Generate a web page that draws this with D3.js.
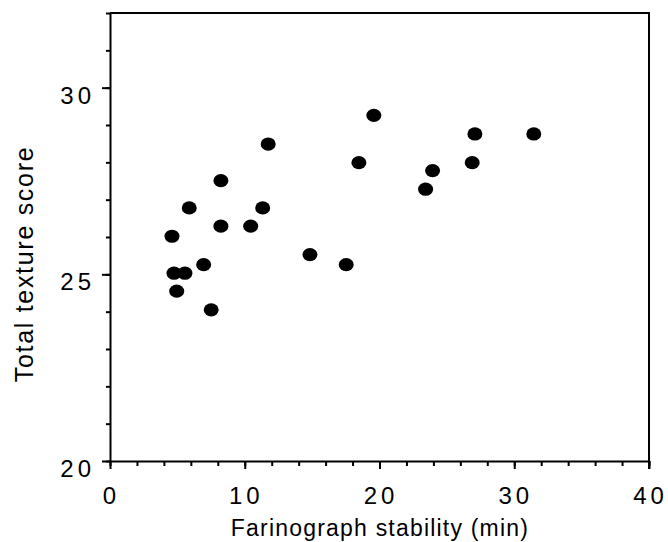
<!DOCTYPE html>
<html>
<head>
<meta charset="utf-8">
<script src="https://cdn.jsdelivr.net/npm/d3@7"></script>
<style>
  body { margin: 0; background: #fff; }
  svg { display: block; font-family: "Liberation Sans", Arial, Helvetica, sans-serif; }
</style>
</head>
<body>
<svg id="chart" width="668" height="542"></svg>
<script>
// farinograph stability (min) vs total texture score
let stability = [4.6, 4.75, 5.56, 4.95, 5.88, 6.95, 7.51, 8.23, 8.23, 10.44, 11.33, 11.74,
	14.84, 17.53, 18.47, 19.58, 23.42, 23.94, 26.88, 27.08, 31.45];
let texture = [26.02, 25.03, 25.03, 24.55, 26.78, 25.26, 24.05, 27.51, 26.29, 26.29, 26.78, 28.49,
	25.53, 25.26, 27.99, 29.26, 27.28, 27.78, 27.99, 28.76, 28.76];

let xMajor = [0, 10, 20, 30, 40];
let xMinor = d3.range(0, 41, 2);
let yMajor = [20, 25, 30];
let yMinor = d3.range(20, 33, 1);

let svg = d3.select('#chart');

let x = d3.scaleLinear().domain([0, 40]).range([110, 649]);
let y = d3.scaleLinear().domain([20, 32]).range([461, 13]);

// minor ticks
svg.append('g')
	.attr('transform', 'translate(110,0)')
	.call(d3.axisLeft(y).tickValues(yMinor).tickSize(4).tickFormat(''))
	.call(g => g.select('.domain').remove());

svg.append('g')
	.attr('transform', 'translate(0,461)')
	.call(d3.axisBottom(x).tickValues(xMinor).tickSize(5).tickFormat(''))
	.call(g => g.select('.domain').remove());

// major ticks + labels
let yAxis = svg.append('g')
	.attr('transform', 'translate(110,0)')
	.call(d3.axisLeft(y).tickValues(yMajor).tickSize(8).tickPadding(14).tickSizeOuter(0));

let xAxis = svg.append('g')
	.attr('transform', 'translate(0,461)')
	.call(d3.axisBottom(x).tickValues(xMajor).tickSize(8).tickPadding(18).tickSizeOuter(0));

svg.selectAll('.tick line').attr('stroke', '#000').attr('stroke-width', 2);
svg.selectAll('.domain').attr('stroke', '#000').attr('stroke-width', 2);

yAxis.selectAll('text')
	.attr('font-size', 24)
	.attr('letter-spacing', 4)
	.attr('fill', '#000')
	.attr('dy', '0.65em')
	.attr('dx', 7);

xAxis.selectAll('text')
	.attr('font-size', 24)
	.attr('letter-spacing', 4)
	.attr('fill', '#000')
	.attr('dx', 1);

// box top and right
svg.append('path')
	.attr('d', `M${x(0)},${y(32)}H${x(40)}V${y(20) + 8}`)
	.attr('fill', 'none')
	.attr('stroke', '#000')
	.attr('stroke-width', 2);

// points
svg.append('g')
	.selectAll('ellipse')
	.data(stability)
	.join('ellipse')
	.attr('cx', d => x(d))
	.attr('cy', (d, i) => y(texture[i]))
	.attr('rx', 7.5)
	.attr('ry', 6.6)
	.attr('fill', '#000');

// axis titles
svg.append('text')
	.attr('x', 380)
	.attr('y', 536)
	.attr('text-anchor', 'middle')
	.attr('font-size', 23)
	.attr('letter-spacing', 1.2)
	.text('Farinograph stability (min)');

svg.append('text')
	.attr('transform', 'translate(33,264) rotate(-90)')
	.attr('text-anchor', 'middle')
	.attr('font-size', 25)
	.attr('letter-spacing', 1.7)
	.text('Total texture score');
</script>
</body>
</html>
